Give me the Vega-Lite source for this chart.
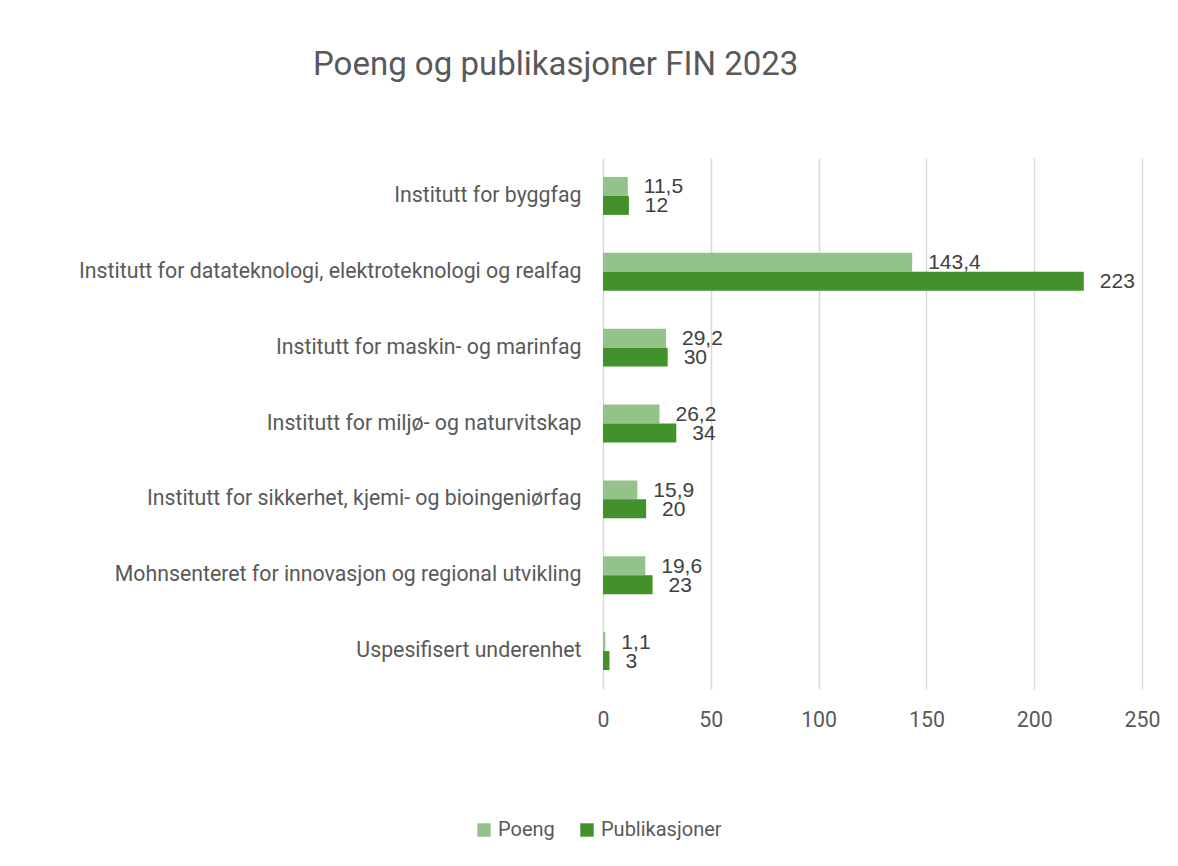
{
  "$schema": "https://vega.github.io/schema/vega-lite/v6.json",
  "autosize": {"type": "none"},
  "width": 539,
  "height": 531,
  "padding": {"left": 603, "top": 158, "right": 36, "bottom": 177},
  "background": "white",
  "config": {
    "font": "Roboto",
    "view": {"stroke": null},
    "locale": {"number": {"decimal": ",", "thousands": "\u00a0", "grouping": [3], "currency": ["", " kr"]}}
  },
  "title": {
    "text": "Poeng og publikasjoner FIN 2023",
    "anchor": "start",
    "frame": "group",
    "dx": -290,
    "offset": 76,
    "fontSize": 33,
    "font": "Roboto",
    "fontWeight": "normal",
    "color": "#595959"
  },
  "data": {
    "values": [
      {"enhet": "Institutt for byggfag", "serie": "Poeng", "verdi": 11.5},
      {"enhet": "Institutt for byggfag", "serie": "Publikasjoner", "verdi": 12},
      {"enhet": "Institutt for datateknologi, elektroteknologi og realfag", "serie": "Poeng", "verdi": 143.4},
      {"enhet": "Institutt for datateknologi, elektroteknologi og realfag", "serie": "Publikasjoner", "verdi": 223},
      {"enhet": "Institutt for maskin- og marinfag", "serie": "Poeng", "verdi": 29.2},
      {"enhet": "Institutt for maskin- og marinfag", "serie": "Publikasjoner", "verdi": 30},
      {"enhet": "Institutt for miljø- og naturvitskap", "serie": "Poeng", "verdi": 26.2},
      {"enhet": "Institutt for miljø- og naturvitskap", "serie": "Publikasjoner", "verdi": 34},
      {"enhet": "Institutt for sikkerhet, kjemi- og bioingeniørfag", "serie": "Poeng", "verdi": 15.9},
      {"enhet": "Institutt for sikkerhet, kjemi- og bioingeniørfag", "serie": "Publikasjoner", "verdi": 20},
      {"enhet": "Mohnsenteret for innovasjon og regional utvikling", "serie": "Poeng", "verdi": 19.6},
      {"enhet": "Mohnsenteret for innovasjon og regional utvikling", "serie": "Publikasjoner", "verdi": 23},
      {"enhet": "Uspesifisert underenhet", "serie": "Poeng", "verdi": 1.1},
      {"enhet": "Uspesifisert underenhet", "serie": "Publikasjoner", "verdi": 3}
    ]
  },
  "encoding": {
    "y": {
      "field": "enhet",
      "type": "nominal",
      "sort": null,
      "title": null,
      "scale": {"paddingInner": 0.5, "paddingOuter": 0.25},
      "axis": {
        "domain": false,
        "ticks": false,
        "labelFontSize": 21.3,
        "labelColor": "#595959",
        "labelPadding": 22,
        "labelLimit": 600,
        "labelFont": "Roboto"
      }
    },
    "yOffset": {"field": "serie", "type": "nominal", "sort": ["Poeng", "Publikasjoner"]},
    "x": {
      "field": "verdi",
      "type": "quantitative",
      "title": null,
      "scale": {"domain": [0, 250], "nice": false},
      "axis": {
        "values": [0, 50, 100, 150, 200, 250],
        "domain": false,
        "ticks": false,
        "grid": true,
        "gridColor": "#d9d9d9",
        "gridWidth": 1.5,
        "labelFlush": false,
        "labelFontSize": 21.3,
        "labelColor": "#595959",
        "labelPadding": 20,
        "labelFont": "Roboto"
      }
    }
  },
  "layer": [
    {
      "mark": {"type": "bar"},
      "encoding": {
        "color": {
          "field": "serie",
          "type": "nominal",
          "scale": {"domain": ["Poeng", "Publikasjoner"], "range": ["#93c28a", "#43912a"]},
          "legend": {
            "title": null,
            "orient": "none",
            "direction": "horizontal",
            "legendX": -129,
            "legendY": 662,
            "symbolType": "square",
            "symbolSize": 180,
            "symbolStrokeWidth": 0,
            "labelFontSize": 20,
            "labelColor": "#595959",
            "labelFont": "Roboto",
            "columnPadding": 22,
            "labelOffset": 4
          }
        }
      }
    },
    {
      "mark": {"type": "text", "align": "left", "baseline": "middle", "dx": 16, "dy": 1, "fontSize": 21, "color": "#404040", "font": "Liberation Sans"},
      "encoding": {
        "text": {"field": "verdi", "type": "quantitative", "format": "~g"}
      }
    }
  ]
}
